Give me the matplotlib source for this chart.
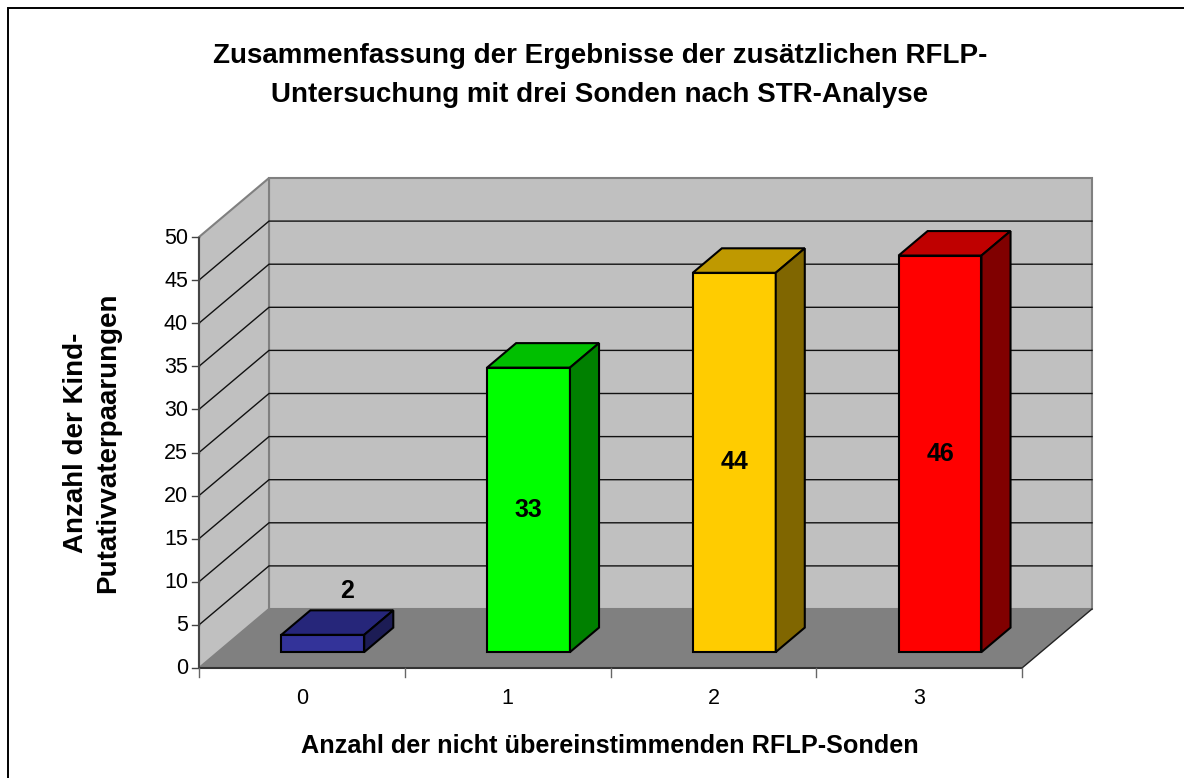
"""
3D-look column chart drawn with plain polygons on a sheared 2D axes.
"""

import matplotlib
matplotlib.use("Agg")
import matplotlib.pyplot as plt
from matplotlib.patches import Polygon, Rectangle

plt.rcParams["font.family"] = ["Liberation Sans", "DejaVu Sans"]

categories = ["0", "1", "2", "3"]
values = [2, 33, 44, 46]
y_ticks = [0, 5, 10, 15, 20, 25, 30, 35, 40, 45, 50]
front_colors = ["#333399", "#00FF00", "#FFCC00", "#FF0000"]
top_colors = ["#26267A", "#00BF00", "#BF9900", "#BF0000"]
side_colors = ["#1C1C55", "#008000", "#806600", "#800000"]

title = ("Zusammenfassung der Ergebnisse der zusätzlichen RFLP-\n"
         "Untersuchung mit drei Sonden nach STR-Analyse")
xlabel = "Anzahl der nicht übereinstimmenden RFLP-Sonden"
ylabel = "Anzahl der Kind-\nPutativvaterpaarungen"

W, H = 1184, 778
X0, Y0 = 199, 668        # pixel position of the origin
UX, UY = 205.75, 8.62    # pixels per category / per value
DX, DY = 70 / UX, 59 / UY  # shear for full depth
BAR_W = 0.403
BAR_SHIFT = 2 / UX
D_FRONT, D_BACK = 0.27, 0.685


def proj(c, v, d=0.0):
    return (c + d * DX, v + d * DY)


def poly(ax, pts, fc, ec="none", lw=0.0, z=1):
    ax.add_patch(Polygon(pts, closed=True, facecolor=fc, edgecolor=ec,
                         linewidth=lw, joinstyle="miter", zorder=z))


fig = plt.figure(figsize=(W / 100, H / 100), dpi=100)
ax = fig.add_axes([0, 0, 1, 1])
ax.set_xlim(-X0 / UX, (W - X0) / UX)
ax.set_ylim(-(H - Y0) / UY, Y0 / UY)
ax.axis("off")

# outer chart frame
ax.add_patch(Rectangle((8 / W, -0.05), 1.5, 1.05 - 7.5 / H, transform=ax.transAxes,
                       facecolor="white", edgecolor="black", linewidth=1.4, zorder=0))

n = len(categories)
top = y_ticks[-1]
wall_ec = "#808080"

# back wall, side wall, floor
poly(ax, [proj(0, 0, 1), proj(n, 0, 1), proj(n, top, 1), proj(0, top, 1)], "#C0C0C0", wall_ec, 1.5)
poly(ax, [proj(0, 0), proj(0, 0, 1), proj(0, top, 1), proj(0, top)], "#C0C0C0", wall_ec, 1.5)
poly(ax, [proj(0, 0), proj(n, 0), proj(n, 0, 1), proj(0, 0, 1)], "#808080", "none", 0, z=1.5)

# gridlines
for t in y_ticks[1:-1]:
    ax.plot(*zip(proj(0, t), proj(0, t, 1), proj(n, t, 1)), color="#111111", lw=1.0, zorder=2)
ax.plot(*zip(proj(n, 0, 1), proj(n, 0)), color="#222222", lw=1.0, zorder=2)

# axes and ticks
ax.plot([0, 0], [0, top], color="#444444", lw=1.5, zorder=3, solid_capstyle="butt")
ax.plot([0, n], [0, 0], color="#333333", lw=1.5, zorder=3, solid_capstyle="butt")
for t in y_ticks:
    ax.plot([-7 / UX, 0], [t, t], color="#444444", lw=1.0, zorder=3)
    ax.text(-11 / UX, t - 1 / UY, str(t), ha="right", va="center", fontsize=15.5, color="black")
for i in range(n + 1):
    ax.plot([i, i], [0, -9 / UY], color="#666666", lw=1.0, zorder=3)
for i, c in enumerate(categories):
    ax.text(i + 0.5, -31 / UY, c, ha="center", va="center", fontsize=15.5, color="black")

# bars
for i, v in enumerate(values):
    l = i + 0.5 - BAR_W / 2 + BAR_SHIFT
    r = l + BAR_W
    kw = dict(ec="black", lw=1.5, z=4)
    poly(ax, [proj(l, 0, D_FRONT), proj(r, 0, D_FRONT), proj(r, v, D_FRONT), proj(l, v, D_FRONT)],
         front_colors[i], **kw)
    poly(ax, [proj(l, v, D_FRONT), proj(r, v, D_FRONT), proj(r, v, D_BACK), proj(l, v, D_BACK)],
         top_colors[i], **kw)
    poly(ax, [proj(r, 0, D_FRONT), proj(r, 0, D_BACK), proj(r, v, D_BACK), proj(r, v, D_FRONT)],
         side_colors[i], **kw)
    cx, cy = proj(i + 0.5 + BAR_SHIFT, v / 2, D_FRONT)
    if v < 5:
        cy = proj(i + 0.5, v, D_BACK)[1] + 19 / UY
        cx += 24 / UX
    ax.text(cx, cy, str(v), ha="center", va="center", fontsize=18, fontweight="bold", zorder=5)

# texts
ax.text(600 / W, 1 - 75.5 / H, title, transform=ax.transAxes, ha="center", va="center",
        fontsize=20, fontweight="bold", linespacing=1.68)
ax.text(610 / W, 1 - 746 / H, xlabel, transform=ax.transAxes, ha="center", va="center",
        fontsize=18.2, fontweight="bold")
ax.text(92 / W, 1 - 443 / H, ylabel, transform=ax.transAxes, ha="center", va="center",
        rotation=90, fontsize=20, fontweight="bold", linespacing=1.3)

fig.savefig("out.png", dpi=100)
